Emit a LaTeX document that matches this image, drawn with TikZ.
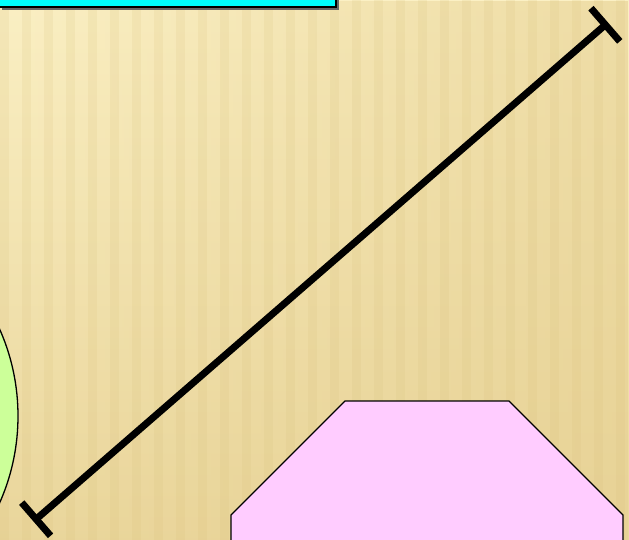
\documentclass[tikz,border=0pt]{standalone}
\usepackage{tikz}
\usetikzlibrary{arrows.meta,calc,fadings}
\definecolor{bglight}{RGB}{251,240,196}
\definecolor{bgdark}{RGB}{230,208,146}
\definecolor{stripedark}{RGB}{214,190,120}
\definecolor{shapecyan}{RGB}{0,255,255}
\definecolor{shapegreen}{RGB}{204,255,153}
\definecolor{shapepink}{RGB}{255,204,255}

\begin{document}
\begin{tikzpicture}[x=1pt, y=-1pt,
  outline/.style={draw=black, line width=1.3pt},
  measure/.style={line width=7pt, {Bar[width=44pt]}-{Bar[width=44pt]}}]

\useasboundingbox (0,0) rectangle (629,540);
\clip (0,0) rectangle (629,540);

% background
\shade[top color=bglight, bottom color=bgdark!80!bglight, shading angle=0] (0,0) rectangle (629,540);
\fill[bgdark, opacity=0.6, path fading=west] (0,0) rectangle (629,540);
\foreach \sx in {0,22,...,640}
  \fill[stripedark, opacity=0.15] (\sx,0) rectangle ++(9,540);

% shapes
\fill[black!60] (2,-2) rectangle (339,10);
\filldraw[outline, fill=shapecyan] (-3,-3) rectangle (336,7);
\filldraw[outline, fill=shapegreen] (-196,416) circle (214);
\filldraw[outline, fill=shapepink]
  (231,548) -- (231,515) -- (345,401) -- (509,401) -- (623,515) -- (623,548) -- cycle;

% line with end bars
\coordinate (lowend) at (33.5,521.5);
\coordinate (highend) at (608,22.5);
\draw[measure] (lowend) -- (highend);

\end{tikzpicture}
\end{document}
